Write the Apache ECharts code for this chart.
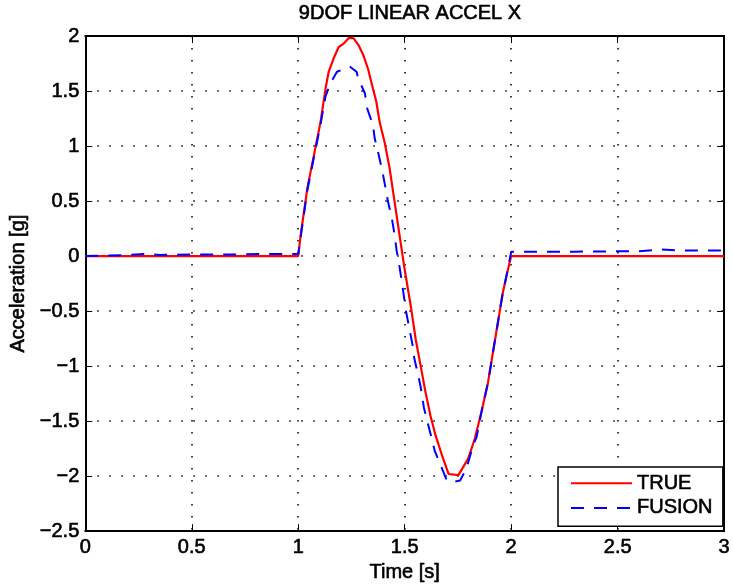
<!DOCTYPE html>
<html>
<head>
<meta charset="utf-8">
<script src="https://cdn.jsdelivr.net/npm/echarts@6/dist/echarts.min.js"></script>
<style>
html,body{margin:0;padding:0;background:#fff;}
#chart{width:733px;height:588px;}
</style>
</head>
<body>
<div id="chart"></div>
<script>
// ---- data ----
var trueTime = [0, 0.5, 1.0, 1.012, 1.043, 1.074, 1.105, 1.128, 1.143, 1.167, 1.19, 1.213, 1.236, 1.259, 1.282, 1.305, 1.328, 1.351, 1.367, 1.382, 1.405, 1.429, 1.452, 1.475, 1.498, 1.529, 1.552, 1.575, 1.598, 1.621, 1.645, 1.675, 1.706, 1.752, 1.798, 1.829, 1.86, 1.891, 1.914, 1.937, 1.96, 1.98, 2.0, 2.5, 3.0];
var trueAccel = [0, 0, 0, 0.2, 0.62, 0.92, 1.22, 1.52, 1.675, 1.80, 1.90, 1.93, 1.98, 1.98, 1.92, 1.83, 1.70, 1.52, 1.40, 1.22, 1.04, 0.80, 0.50, 0.20, -0.10, -0.46, -0.76, -1.0, -1.24, -1.45, -1.63, -1.81, -1.98, -1.99, -1.84, -1.66, -1.42, -1.15, -0.88, -0.61, -0.34, -0.16, 0, 0, 0];
var fusionTime = [0, 0.1, 0.2, 0.28, 0.35, 0.5, 0.7, 0.9, 1.0, 1.012, 1.043, 1.074, 1.105, 1.128, 1.151, 1.182, 1.213, 1.243, 1.274, 1.282, 1.313, 1.324, 1.351, 1.359, 1.379, 1.393, 1.41, 1.421, 1.439, 1.452, 1.462, 1.472, 1.486, 1.493, 1.506, 1.521, 1.536, 1.544, 1.564, 1.575, 1.59, 1.606, 1.626, 1.641, 1.675, 1.698, 1.73, 1.76, 1.79, 1.821, 1.837, 1.86, 1.891, 1.914, 1.937, 1.96, 1.98, 2.0, 2.3, 2.6, 2.7, 2.8, 3.0];
var fusionAccel = [0, 0.005, 0.01, 0.02, 0.01, 0.015, 0.015, 0.02, 0.02, 0.18, 0.6, 0.9, 1.2, 1.45, 1.57, 1.675, 1.70, 1.72, 1.675, 1.61, 1.48, 1.34, 1.19, 1.07, 0.91, 0.79, 0.62, 0.50, 0.35, 0.20, 0.05, -0.05, -0.23, -0.32, -0.50, -0.65, -0.80, -0.92, -1.09, -1.19, -1.375, -1.50, -1.65, -1.77, -1.93, -2.04, -2.05, -2.04, -1.93, -1.72, -1.65, -1.42, -1.15, -0.88, -0.61, -0.34, -0.16, 0.04, 0.04, 0.045, 0.06, 0.05, 0.05];
var seriesNames = ['TRUE', 'FUSION'];
var titleText = '9DOF LINEAR ACCEL X';
var xName = 'Time [s]';
var yName = 'Acceleration [g]';

function zip(a, b) { return a.map(function (v, i) { return [v, b[i]]; }); }
function fmt(v) { return String(Math.round(v * 10) / 10).replace('-', '\u2212'); }

var FONT = '"Liberation Sans", Arial, sans-serif';
function txt(extra) {
  var o = { fontFamily: FONT, fontSize: 20, fontWeight: 'normal', color: '#000', textBorderColor: '#000', textBorderWidth: 0.6 };
  for (var k in extra) o[k] = extra[k];
  return o;
}
var chart = echarts.init(document.getElementById('chart'));
var gridLine = { show: true, lineStyle: { color: '#000', width: 1.5, type: [1.5, 10.5] } };
chart.setOption({
  animation: false,
  backgroundColor: '#fff',
  title: { text: titleText, left: 405, textAlign: 'center', top: -2, textStyle: txt({}) },
  grid: { left: 82, right: 3, top: 36, bottom: 56 },
  legend: {
    orient: 'vertical', left: 558, top: 467,
    itemWidth: 61, itemHeight: 14, itemGap: 4,
    padding: [6, 10, 8, 12],
    backgroundColor: '#fff', borderColor: '#000', borderWidth: 1.5,
    itemStyle: { opacity: 0 },
    textStyle: txt({ lineHeight: 20 }),
    data: seriesNames
  },
  xAxis: [{
    type: 'value', min: 0, max: 3, interval: 0.5,
    name: xName, nameLocation: 'middle', nameGap: 31,
    nameTextStyle: txt({}),
    axisLine: { onZero: false, lineStyle: { color: '#000', width: 2 } },
    axisTick: { inside: true, length: 7, lineStyle: { color: '#000', width: 1 } },
    axisLabel: txt({ margin: 6, formatter: fmt }),
    splitLine: gridLine
  }, {
    type: 'value', position: 'top', min: 0, max: 3, interval: 0.5,
    axisLine: { show: true, onZero: false, lineStyle: { color: '#000', width: 2 } },
    axisTick: { show: true, inside: true, length: 7, lineStyle: { color: '#000', width: 1 } },
    axisLabel: { show: false }, splitLine: { show: false }
  }],
  yAxis: [{
    type: 'value', min: -2.5, max: 2, interval: 0.5,
    name: yName, nameLocation: 'middle', nameGap: 47, nameRotate: 90,
    nameTextStyle: txt({}),
    axisLine: { show: true, onZero: false, lineStyle: { color: '#000', width: 2 } },
    axisTick: { show: true, inside: true, length: 7, lineStyle: { color: '#000', width: 1 } },
    axisLabel: txt({ margin: 6, formatter: fmt }),
    splitLine: gridLine
  }, {
    type: 'value', position: 'right', min: -2.5, max: 2, interval: 0.5,
    axisLine: { show: true, onZero: false, lineStyle: { color: '#000', width: 2 } },
    axisTick: { show: true, inside: true, length: 7, lineStyle: { color: '#000', width: 1 } },
    axisLabel: { show: false }, splitLine: { show: false }
  }],
  series: [{
    name: seriesNames[0], type: 'line', data: zip(trueTime, trueAccel),
    symbol: 'none', color: '#ff0000',
    lineStyle: { color: '#ff0000', width: 2.2 }
  }, {
    name: seriesNames[1], type: 'line', data: zip(fusionTime, fusionAccel),
    symbol: 'none', color: '#0000ff',
    lineStyle: { color: '#0000ff', width: 2, type: [13, 10] }
  }]
});
</script>
</body>
</html>
